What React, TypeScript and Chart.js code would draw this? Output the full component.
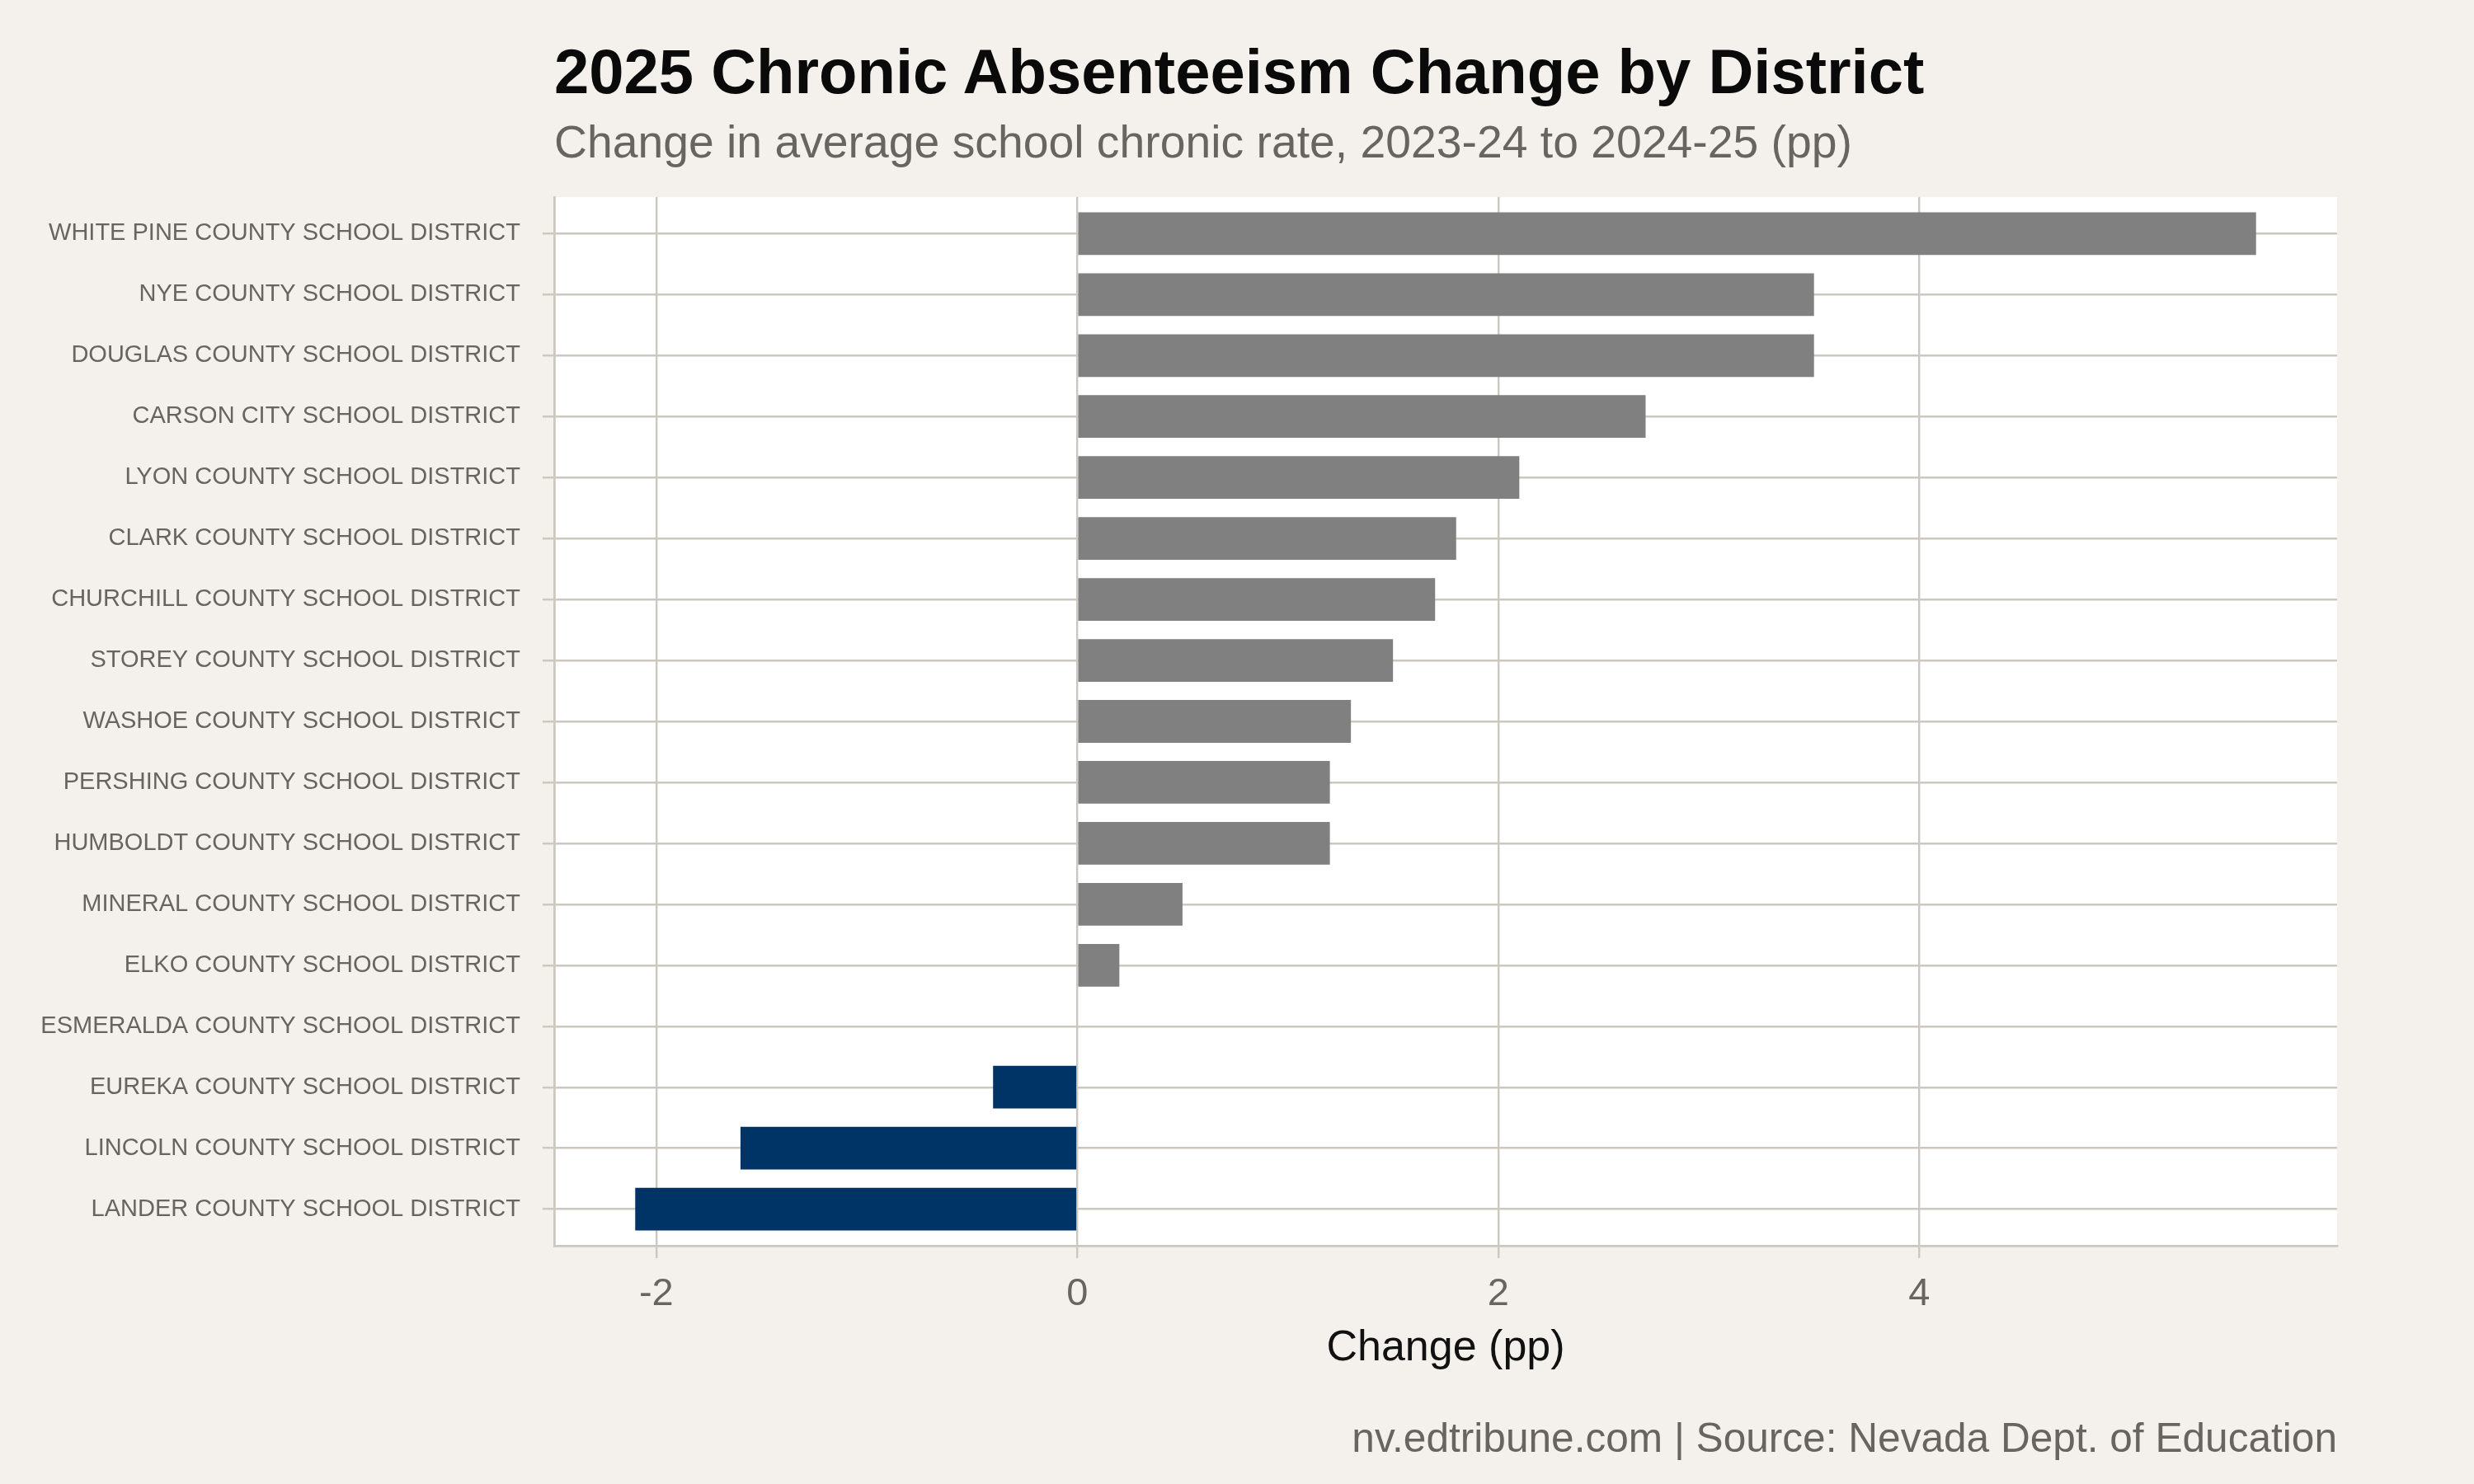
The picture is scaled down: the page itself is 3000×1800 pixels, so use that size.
import React, { useEffect, useRef } from "react";
import { Chart, registerables } from "chart.js";

Chart.register(...registerables);

const districts = [
  "WHITE PINE COUNTY SCHOOL DISTRICT",
  "NYE COUNTY SCHOOL DISTRICT",
  "DOUGLAS COUNTY SCHOOL DISTRICT",
  "CARSON CITY SCHOOL DISTRICT",
  "LYON COUNTY SCHOOL DISTRICT",
  "CLARK COUNTY SCHOOL DISTRICT",
  "CHURCHILL COUNTY SCHOOL DISTRICT",
  "STOREY COUNTY SCHOOL DISTRICT",
  "WASHOE COUNTY SCHOOL DISTRICT",
  "PERSHING COUNTY SCHOOL DISTRICT",
  "HUMBOLDT COUNTY SCHOOL DISTRICT",
  "MINERAL COUNTY SCHOOL DISTRICT",
  "ELKO COUNTY SCHOOL DISTRICT",
  "ESMERALDA COUNTY SCHOOL DISTRICT",
  "EUREKA COUNTY SCHOOL DISTRICT",
  "LINCOLN COUNTY SCHOOL DISTRICT",
  "LANDER COUNTY SCHOOL DISTRICT",
];

const changes = [5.6, 3.5, 3.5, 2.7, 2.1, 1.8, 1.7, 1.5, 1.3, 1.2, 1.2, 0.5, 0.2, 0, -0.4, -1.6, -2.1];

const xTicks = [-2, 0, 2, 4];

const TITLE = "2025 Chronic Absenteeism Change by District";
const SUBTITLE = "Change in average school chronic rate, 2023-24 to 2024-25 (pp)";
const CAPTION = "nv.edtribune.com | Source: Nevada Dept. of Education";
const X_TITLE = "Change (pp)";

const FONT = "'Liberation Sans', Arial, Helvetica, sans-serif";
const BG = "#F4F1EC";
const GRID = "#CDC8BF";
const TEXT_GRAY = "#686560";
const POS_COLOR = "#808080";
const NEG_COLOR = "#003366";

const W = 3000;
const H = 1800;
const PLOT_LEFT = 672;
const PLOT_RIGHT = 2834;
const PLOT_TOP = 239;
const PLOT_BOTTOM = 1511;

export default function App() {
  const canvasRef = useRef<HTMLCanvasElement | null>(null);

  useEffect(() => {
    const canvas = canvasRef.current;
    if (!canvas) return;
    const lo = Math.min(...changes);
    const hi = Math.max(...changes);
    const pad = (hi - lo) * 0.05;

    const plotBg = {
      id: "plotBg",
      beforeDraw(chart: any) {
        const { ctx, chartArea } = chart;
        ctx.save();
        ctx.fillStyle = "#FFFFFF";
        ctx.fillRect(chartArea.left, chartArea.top, chartArea.right - chartArea.left, chartArea.bottom - chartArea.top);
        ctx.restore();
      },
    };

    const chart = new Chart(canvas, {
      type: "bar",
      data: {
        datasets: [
          {
            data: changes.map((v, i) => ({ x: v, y: i })),
            backgroundColor: changes.map((v) => (v < 0 ? NEG_COLOR : POS_COLOR)),
            borderWidth: 0,
            barPercentage: 0.7,
            categoryPercentage: 1,
          },
        ],
      },
      options: {
        indexAxis: "y",
        animation: false,
        responsive: false,
        devicePixelRatio: 1,
        layout: { padding: { left: 0, right: W - PLOT_RIGHT, top: PLOT_TOP, bottom: 0 } },
        plugins: {
          legend: { display: false },
          tooltip: { enabled: false },
          title: { display: false },
        },
        scales: {
          x: {
            type: "linear",
            position: "bottom",
            min: lo - pad,
            max: hi + pad,
            offset: false,
            afterBuildTicks: (scale: any) => {
              scale.ticks = xTicks.map((v) => ({ value: v }));
            },
            afterFit: (scale: any) => {
              scale.height = H - PLOT_BOTTOM;
            },
            grid: {
              offset: false,
              color: GRID,
              lineWidth: 2.4,
              tickLength: 15,
              tickColor: GRID,
              tickWidth: 2.4,
            },
            border: { display: true, color: GRID, width: 2.8 },
            ticks: {
              color: TEXT_GRAY,
              font: { family: FONT, size: 47 },
              padding: 16,
              maxRotation: 0,
              autoSkip: false,
              callback: (v: any) => String(v),
            },
            title: {
              display: true,
              text: X_TITLE,
              color: "#111111",
              font: { family: FONT, size: 52 },
              padding: { top: 0, bottom: 133 },
            },
          },
          y: {
            type: "linear",
            position: "left",
            reverse: true,
            offset: false,
            min: -0.6,
            max: districts.length - 1 + 0.6,
            afterBuildTicks: (scale: any) => {
              scale.ticks = districts.map((_, i) => ({ value: i }));
            },
            afterFit: (scale: any) => {
              scale.width = PLOT_LEFT;
            },
            grid: {
              offset: false,
              color: GRID,
              lineWidth: 2.4,
              tickLength: 14,
              tickColor: GRID,
              tickWidth: 2.4,
            },
            border: { display: true, color: GRID, width: 2.8 },
            ticks: {
              color: TEXT_GRAY,
              font: { family: FONT, size: 29 },
              padding: 27,
              autoSkip: false,
              callback: (v: any) => districts[v] ?? "",
            },
          },
        },
      },
      plugins: [plotBg],
    } as any);

    return () => chart.destroy();
  }, []);

  return (
    <div
      style={{
        position: "absolute",
        left: 0,
        top: 0,
        width: W,
        height: H,
        background: BG,
        overflow: "hidden",
        fontFamily: FONT,
      }}
    >
      <canvas
        ref={canvasRef}
        width={W}
        height={H}
        style={{ position: "absolute", left: 0, top: 0, width: W, height: H }}
      />
      <div
        style={{
          position: "absolute",
          left: PLOT_LEFT,
          top: 48.7,
          fontSize: 76,
          lineHeight: "76px",
          fontWeight: 700,
          color: "#0A0A0A",
          whiteSpace: "nowrap",
        }}
      >
        {TITLE}
      </div>
      <div
        style={{
          position: "absolute",
          left: PLOT_LEFT,
          top: 145.2,
          fontSize: 55.3,
          lineHeight: "55.3px",
          color: TEXT_GRAY,
          whiteSpace: "nowrap",
        }}
      >
        {SUBTITLE}
      </div>
      <div
        style={{
          position: "absolute",
          right: W - PLOT_RIGHT,
          top: 1720,
          fontSize: 49.6,
          lineHeight: "49.6px",
          color: TEXT_GRAY,
          whiteSpace: "nowrap",
        }}
      >
        {CAPTION}
      </div>
    </div>
  );
}
